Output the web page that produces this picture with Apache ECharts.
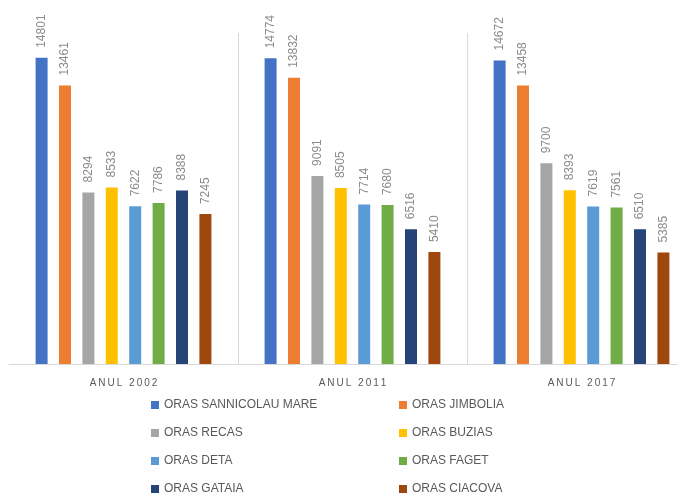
<!DOCTYPE html>
<html>
<head>
<meta charset="utf-8">
<script src="https://cdn.jsdelivr.net/npm/echarts@6/dist/echarts.min.js"></script>
<style>html,body{margin:0;padding:0;background:#fff}#c{width:678px;height:494px}</style>
</head>
<body>
<div id="c"></div>
<script>
const categories = ['ANUL 2002', 'ANUL 2011', 'ANUL 2017'];
const seriesNames = ['ORAS SANNICOLAU MARE', 'ORAS JIMBOLIA', 'ORAS RECAS', 'ORAS BUZIAS', 'ORAS DETA', 'ORAS FAGET', 'ORAS GATAIA', 'ORAS CIACOVA'];
const sannicolauMare = [14801, 14774, 14672];
const jimbolia = [13461, 13832, 13458];
const recas = [8294, 9091, 9700];
const buzias = [8533, 8505, 8393];
const deta = [7622, 7714, 7619];
const faget = [7786, 7680, 7561];
const gataia = [8388, 6516, 6510];
const ciacova = [7245, 5410, 5385];
const seriesValues = [sannicolauMare, jimbolia, recas, buzias, deta, faget, gataia, ciacova];
const colors = ['#4472C4', '#ED7D31', '#A5A5A5', '#FFC000', '#5B9BD5', '#70AD47', '#264478', '#9E480E'];

const spaced = s => s.split('').join('\u2009');

const chart = echarts.init(document.getElementById('c'), null, {renderer: 'canvas'});
const legendCommon = {
  orient: 'vertical', icon: 'rect', itemWidth: 8, itemHeight: 8, itemGap: 16, height: 100,
  padding: 0,
  textStyle: {fontFamily: 'Liberation Sans, Arial, sans-serif', fontSize: 12, color: '#595959', lineHeight: 12},
  selectedMode: false
};
chart.setOption({
  animation: false,
  color: colors,
  grid: {left: 9, width: 687, top: 33, bottom: 130, containLabel: false, outerBoundsMode: 'none'},
  legend: [
    Object.assign({left: 151, top: 399, data: [seriesNames[0], seriesNames[2], seriesNames[4], seriesNames[6]]}, legendCommon),
    Object.assign({left: 399, top: 399, data: [seriesNames[1], seriesNames[3], seriesNames[5], seriesNames[7]]}, legendCommon)
  ],
  xAxis: {
    type: 'category',
    data: categories,
    axisLine: {lineStyle: {color: '#d9d9d9', width: 1}},
    axisTick: {show: false},
    axisLabel: {
      formatter: v => spaced(v),
      fontFamily: 'Liberation Sans, Arial, sans-serif', fontSize: 10, color: '#595959', margin: 14
    },
    splitLine: {show: true, showMinLine: false, showMaxLine: false, lineStyle: {color: '#d9d9d9', width: 1}}
  },
  yAxis: {type: 'value', min: 0, max: 16000, show: false, splitLine: {show: false}},
  series: seriesNames.map((name, i) => ({
    name: name,
    type: 'bar',
    data: seriesValues[i],
    barWidth: 12,
    barGap: '95%',
    itemStyle: {color: colors[i]},
    label: {
      show: true, position: 'top', rotate: 90, align: 'left', verticalAlign: 'middle', distance: 10,
      fontFamily: 'Liberation Sans, Arial, sans-serif', fontSize: 12, color: '#8c8c8c'
    }
  }))
});
</script>
</body>
</html>
